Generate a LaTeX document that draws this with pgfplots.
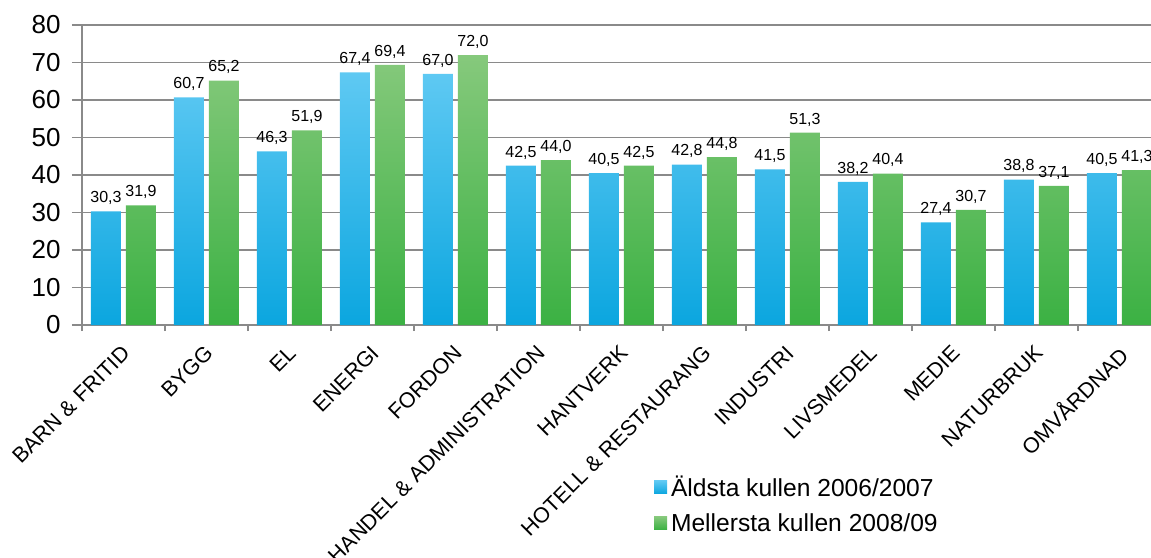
\documentclass[border=0pt]{standalone}
\usepackage{fontspec}
\setmainfont{Liberation Sans}
\usepackage{pgfplots}
\pgfplotsset{compat=1.18}

\definecolor{bluetop}{HTML}{5FC9F3}
\definecolor{bluebot}{HTML}{0BA6DF}
\definecolor{greentop}{HTML}{86C97C}
\definecolor{greenbot}{HTML}{3BB143}
\definecolor{gridgray}{HTML}{8A8A8A}

\begin{document}
\begin{tikzpicture}
\useasboundingbox (-82pt,-232pt) rectangle (1069pt,325pt);
\clip (-82pt,-232pt) rectangle (1069pt,325pt);
\begin{axis}[
  at={(0pt,0pt)}, anchor=south west,
  scale only axis, width=1079pt, height=300pt,
  ybar=5pt, bar width=30pt,
  xmin=-0.5, xmax=12.5, ymin=0, ymax=80,
  ytick={0,10,...,80},
  xtick={0,...,12},
  xticklabels={BARN \& FRITID, BYGG, EL, ENERGI, FORDON, HANDEL \& ADMINISTRATION, HANTVERK, HOTELL \& RESTAURANG, INDUSTRI, LIVSMEDEL, MEDIE, NATURBRUK, OMVÅRDNAD},
  minor xtick={-0.5,0.5,...,12.5},
  axis x line*=bottom, axis y line*=left,
  axis line style={gridgray, line width=1.5pt},
  tick align=outside,
  major tick length=10pt, minor tick length=6pt,
  every tick/.style={gridgray, line width=1.5pt},
  major x tick style={draw=none},
  ymajorgrids,
  grid style={gridgray, line width=1.5pt},
  /pgf/number format/assume math mode=true,
  yticklabel style={font=\fontsize{26}{30}\selectfont, xshift=-8pt},
  xticklabel style={font=\fontsize{21.5}{25}\selectfont, inner sep=0pt, xshift=-3pt, yshift=-9pt, rotate=45, anchor=north east},
  nodes near coords,
  nodes near coords style={font=\fontsize{16}{19}\selectfont, black, yshift=3pt, /pgf/number format/.cd, fixed, fixed zerofill, precision=1, use comma, assume math mode=true},
  legend style={at={(axis description cs:0.530,-0.497)}, anchor=north west, draw=none, fill=none,
    font=\fontsize{24.6}{29}\selectfont, row sep=11pt, inner sep=0pt,
    nodes={inner xsep=4pt, inner ysep=2pt}},
  legend cell align=left,
  legend image code/.code={\path[#1, draw=none] (0pt,-6.5pt) rectangle (13pt,6.5pt);},
]
\addplot[draw=none, top color=bluetop, bottom color=bluebot] coordinates {
  (0,30.3) (1,60.7) (2,46.3) (3,67.4) (4,67.0) (5,42.5) (6,40.5)
  (7,42.8) (8,41.5) (9,38.2) (10,27.4) (11,38.8) (12,40.5)};
\addplot[draw=none, top color=greentop, bottom color=greenbot] coordinates {
  (0,31.9) (1,65.2) (2,51.9) (3,69.4) (4,72.0) (5,44.0) (6,42.5)
  (7,44.8) (8,51.3) (9,40.4) (10,30.7) (11,37.1) (12,41.3)};
\legend{Äldsta kullen 2006/2007, Mellersta kullen 2008/09}
\end{axis}
\end{tikzpicture}
\end{document}
